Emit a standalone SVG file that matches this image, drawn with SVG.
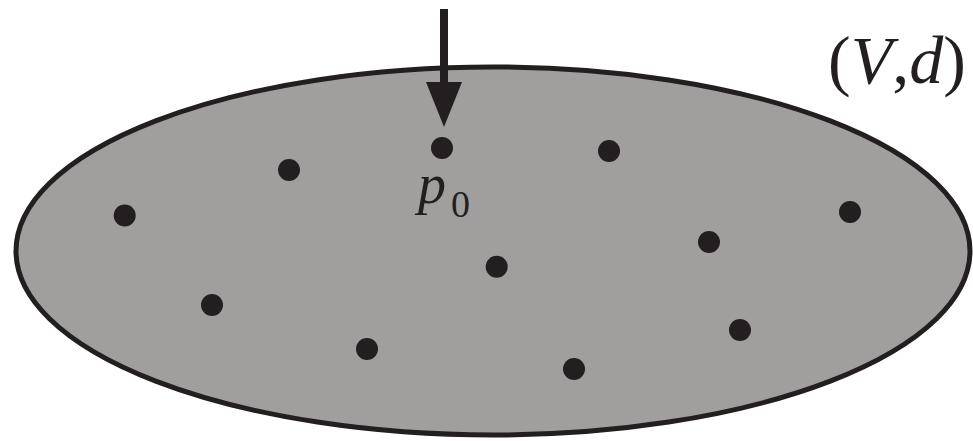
<svg xmlns="http://www.w3.org/2000/svg" width="973" height="441" viewBox="0 0 973 441">
<style>
.dot{fill:#231f20}
.t{font-family:"Times New Roman","Liberation Serif","Nimbus Roman","DejaVu Serif",serif;fill:#231f20}
.i{font-style:italic}
</style>
<rect width="973" height="441" fill="#ffffff"/>
<g id="space">
<ellipse cx="493" cy="251" rx="477" ry="184" fill="#a19f9e" stroke="#231f20" stroke-width="5"/>
</g>
<g id="points">
<circle class="dot" cx="124.7" cy="215.5" r="11"/>
<circle class="dot" cx="289" cy="170" r="11"/>
<circle class="dot" cx="442" cy="148" r="11"/>
<circle class="dot" cx="609" cy="151" r="11"/>
<circle class="dot" cx="850" cy="212" r="11"/>
<circle class="dot" cx="709" cy="242" r="11"/>
<circle class="dot" cx="496.7" cy="266.7" r="11"/>
<circle class="dot" cx="212" cy="305" r="11"/>
<circle class="dot" cx="367" cy="349" r="11"/>
<circle class="dot" cx="740" cy="330" r="11"/>
<circle class="dot" cx="574" cy="369" r="11"/>
</g>
<g id="connectors">
<rect x="440" y="9" width="8" height="76" fill="#231f20"/>
<polygon points="426,82 462,82 444,127" fill="#231f20"/>
</g>
<g id="labels">
<text class="t" x="418" y="203" font-size="56"><tspan class="i">p</tspan><tspan x="451" y="217" font-size="38">0</tspan></text>
<text class="t" x="828" y="83" font-size="68">(<tspan class="i">V</tspan>,<tspan class="i">d</tspan>)</text>
</g>
</svg>
